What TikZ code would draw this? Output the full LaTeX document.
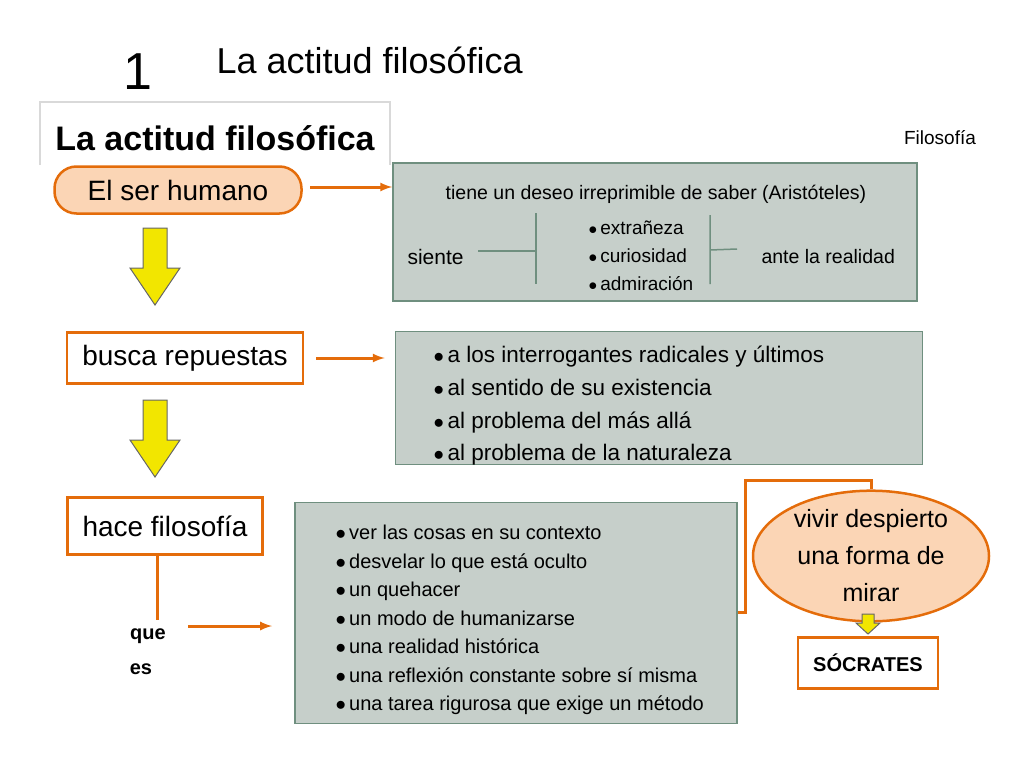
\documentclass[tikz,border=0pt]{standalone}
\usepackage{fontspec}
\setmainfont{Liberation Sans}
\usetikzlibrary{positioning,shapes.geometric}
\definecolor{naranja}{HTML}{E46C0A}
\definecolor{naranjaclaro}{HTML}{FBD5B5}
\definecolor{gris}{HTML}{C6CFCA}
\definecolor{grisborde}{HTML}{6F8F7F}
\definecolor{amarillo}{HTML}{F2E600}
\tikzset{
  caja/.style={draw=grisborde,line width=1.8pt,fill=gris},
  paso/.style={draw=naranja,line width=2.5pt,fill=white,font=\fontsize{28}{32}\selectfont,inner sep=0pt},
  flecha/.style={draw=naranja,line width=3pt,-latex},
  bajar/.style={draw=black!60,fill=amarillo,line width=1pt},
  punto/.style={font=\fontsize{20}{23}\selectfont,anchor=base west}
}
\begin{document}
\begin{tikzpicture}[x=1pt,y=-1pt]
        \useasboundingbox (0,0) rectangle (1024,768);
        % titulo
        \node at (138,72) {\fontsize{52}{56}\selectfont 1};
        \node[anchor=west] at (213,60) {\fontsize{36}{40}\selectfont La actitud filosófica};
        \draw[black!15,line width=1.5pt] (40,165) -- (40,102) -- (390,102) -- (390,165);
        \node at (215,138) {\fontsize{34}{38}\selectfont\bfseries La actitud filosófica};
        \node at (940,138) {\fontsize{19}{22}\selectfont Filosofía};
        % pasos
        \node (ser) [paso,rounded corners=22pt,fill=naranjaclaro,minimum width=247pt,minimum height=47pt] at (178,190) {El ser humano};
        \node (busca) [paso,minimum width=236pt,minimum height=51pt] at (185,358) {busca repuestas};
        \node (hace) [paso,minimum width=195pt,minimum height=57pt] at (165,526) {hace filosofía};
        \foreach \y in {228,400}
        \draw[bajar] (143,\y) -- (167,\y) -- (167,\y+40) -- (180,\y+40) -- (155,\y+77) -- (130,\y+40) -- (143,\y+40) -- cycle;
        % cajas
        \node (c1) [caja,minimum width=524pt,minimum height=138pt] at (655,232) {};
        \node (c2) [caja,minimum width=527pt,minimum height=133pt] at (659,398) {};
        \node (c3) [caja,minimum width=442pt,minimum height=221pt] at (516,613) {};
        \draw[flecha] (310,187) -- (c1.west |- 0,187);
        \draw[flecha] ([xshift=12pt]busca.east) -- ([xshift=-10pt]c2.west |- busca.east);
        \coordinate (pie) at (157,620);
        \draw[naranja,line width=3pt] (hace.south -| pie) -- (pie);
        \node (que) at (148,636) {\fontsize{20}{23}\selectfont\bfseries que};
        \node (es) at (141,669) {\fontsize{20}{23}\selectfont\bfseries es};
        \draw[flecha] (188,626) -- (272,626);
        % caja 1
        \node at (656,194) {\fontsize{19.5}{22}\selectfont tiene un deseo irreprimible de saber (Aristóteles)};
        \node[anchor=west] (siente) at (404,257) {\fontsize{21}{24}\selectfont siente};
        \node[anchor=west] at (758,257) {\fontsize{19.5}{22}\selectfont ante la realidad};
        \foreach \t [count=\i] in {extrañeza,curiosidad,admiración}
        \node[punto,font=\fontsize{19}{22}\selectfont] at (585,206+28*\i) {$\bullet$\,\t};
        \draw[grisborde,line width=1.5pt] (478,251) -- (536,251) (536,213) -- (536,284);
        \draw[grisborde,line width=1.5pt] (710,215) -- (710,284) (710,250) -- (737,249);
        % caja 2
        \foreach \t [count=\i] in {a los interrogantes radicales y últimos,al sentido de su existencia,al problema del más allá,al problema de la naturaleza}
        \node[punto,font=\fontsize{22.5}{26}\selectfont] at (430,330+32.7*\i) {$\bullet$\,\t};
        % caja 3
        \foreach \t [count=\i] in {ver las cosas en su contexto,desvelar lo que está oculto,un quehacer,un modo de humanizarse,una realidad histórica,una reflexión constante sobre sí misma,una tarea rigurosa que exige un método}
        \node[punto] at (332,511+28.5*\i) {$\bullet$\,\t};
        % mirar
        \node (mirar) [ellipse,draw=naranja,line width=2.5pt,fill=naranjaclaro,minimum width=236pt,minimum height=100pt,inner sep=0pt,align=center,font=\fontsize{25}{37}\selectfont] at (871,556) {vivir despierto\\una forma de\\mirar};
        \coordinate (esquina) at (745,480);
        \draw[naranja,line width=3pt] (c3.east |- 0,612) -| (esquina) -| (mirar.north);
        \node (socrates) [paso,minimum width=140pt,minimum height=51pt,font=\fontsize{20}{23}\selectfont\bfseries] at (868,663) {SÓCRATES};
        \draw[bajar] (862,614) -- (874,614) -- (874,623) -- (880,623) -- (868,634) -- (856,623) -- (862,623) -- cycle;
\end{tikzpicture}
\end{document}
